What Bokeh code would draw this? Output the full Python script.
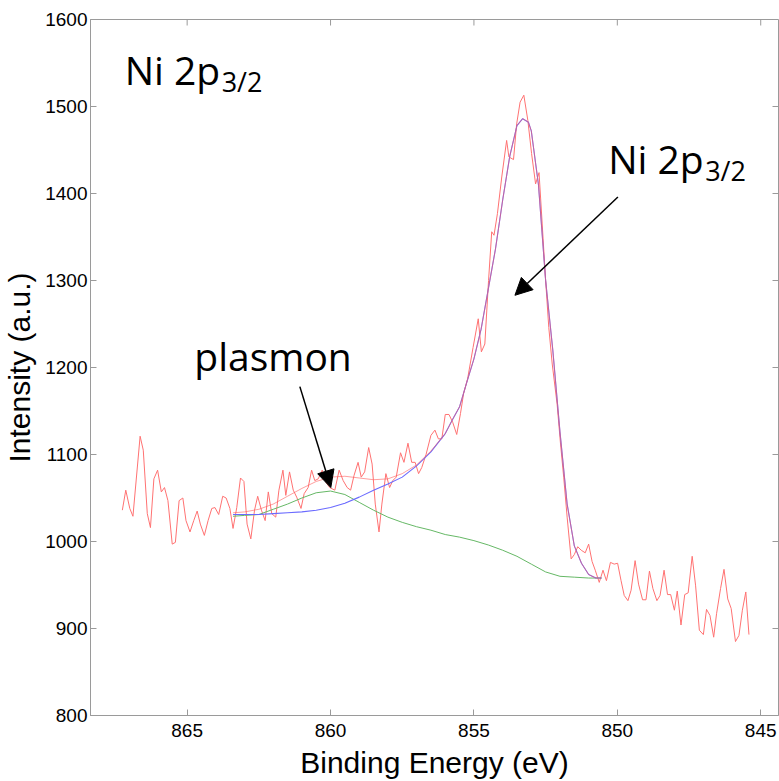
from bokeh.plotting import figure
from bokeh.models import Range1d, FixedTicker, Label, Arrow, NormalHead
from bokeh.embed import file_html
from bokeh.resources import INLINE

# ---- measured spectrum (Binding energy eV, intensity a.u.) ----
raw_energy = [867.26, 867.14, 867.00, 866.89, 866.64, 866.53, 866.39, 866.28, 866.16, 866.03,
              865.90, 865.79, 865.67, 865.52, 865.41, 865.28, 865.15, 865.04, 864.90, 864.77,
              864.65, 864.54, 864.40, 864.27, 864.14, 864.03, 863.90, 863.76, 863.64, 863.51,
              863.40, 863.27, 863.14, 863.02, 862.91, 862.78, 862.65, 862.54, 862.41, 862.28,
              862.17, 862.05, 861.91, 861.80, 861.66, 861.56, 861.43, 861.30, 861.18, 861.03,
              860.92, 860.78, 860.66, 860.55, 860.43, 860.29, 860.16, 860.03, 859.85, 859.70,
              859.56, 859.42, 859.30, 859.18, 859.04, 858.93, 858.81, 858.67, 858.55, 858.44,
              858.31, 858.21, 858.07, 857.94, 857.83, 857.71, 857.56, 857.44, 857.30, 857.17,
              857.05, 856.93, 856.82, 856.67, 856.50, 856.36, 856.24, 856.12, 856.00, 855.87,
              855.74, 855.60, 855.47, 855.36, 855.22, 855.03, 854.85, 854.74, 854.62, 854.49,
              854.38, 854.30, 854.18, 854.03, 853.86, 853.78, 853.62, 853.51, 853.39, 853.26,
              853.12, 852.99, 852.85, 852.73, 852.62, 852.50, 852.39, 852.27, 852.10, 851.98,
              851.87, 851.75, 851.61, 851.50, 851.38, 851.26, 851.12, 851.00, 850.88, 850.77,
              850.63, 850.50, 850.38, 850.24, 850.11, 849.99, 849.87, 849.76, 849.63, 849.52,
              849.38, 849.26, 849.12, 849.00, 848.88, 848.76, 848.62, 848.51, 848.37, 848.25,
              848.14, 848.01, 847.91, 847.78, 847.65, 847.53, 847.39, 847.27, 847.14, 847.00,
              846.89, 846.77, 846.64, 846.54, 846.40, 846.28, 846.15, 846.03, 845.88, 845.76,
              845.64, 845.52, 845.41]
raw_counts = [1036, 1059, 1038, 1029, 1121, 1105, 1032, 1016, 1072, 1082,
              1057, 1062, 1047, 997, 999, 1047, 1050, 1024, 1011, 1024,
              1035, 1020, 1007, 1024, 1038, 1039, 1031, 1052, 1050, 1038,
              1015, 1039, 1073, 1069, 1020, 1003, 1036, 1052, 1036, 1024,
              1057, 1032, 1028, 1059, 1082, 1053, 1080, 1059, 1051, 1038,
              1055, 1062, 1082, 1070, 1072, 1082, 1068, 1062, 1059, 1082,
              1070, 1062, 1059, 1076, 1091, 1074, 1080, 1108, 1089, 1043,
              1011, 1043, 1078, 1062, 1070, 1074, 1102, 1091, 1113, 1091,
              1091, 1078, 1085, 1100, 1122, 1128, 1118, 1118, 1146, 1146,
              1137, 1123, 1147, 1170, 1187, 1223, 1256, 1218, 1227, 1300,
              1356, 1352, 1377, 1419, 1461, 1442, 1439, 1480, 1505, 1513,
              1484, 1446, 1411, 1424, 1365, 1300, 1246, 1204, 1158, 1112,
              1074, 1028, 980, 985, 994, 990, 987, 997, 977, 967,
              953, 967, 955, 976, 974, 975, 955, 938, 932, 944,
              978, 951, 933, 933, 966, 946, 932, 938, 967, 939,
              939, 921, 943, 904, 939, 941, 983, 949, 898, 893,
              922, 915, 890, 917, 946, 968, 934, 923, 885, 892,
              921, 942, 893]

# ---- main peak fit (blue) ----
peak_energy = [863.40, 863.0, 862.5, 862.0, 861.5, 861.0, 860.5, 860.0, 859.5, 859.0,
               858.5, 858.0, 857.5, 857.0, 856.5, 856.0, 855.75, 855.5, 855.25, 855.0,
               854.75, 854.5, 854.25, 854.0, 853.75, 853.5, 853.3, 853.1, 853.0, 852.75,
               852.5, 852.25, 852.0, 851.75, 851.5, 851.25, 851.0, 850.75, 850.55]
peak_fit = [1031, 1031, 1031, 1032, 1033, 1034, 1036, 1039, 1044, 1051,
            1059, 1066, 1074, 1087, 1103, 1124, 1140, 1155, 1183, 1210,
            1244, 1290, 1336, 1392, 1443, 1478, 1486, 1482, 1472, 1410,
            1300, 1220, 1126, 1043, 995, 975, 962, 958, 958]

# ---- plasmon + background (green) ----
plasmon_energy = [863.4, 863.0, 862.5, 862.0, 861.5, 861.0, 860.5, 860.0, 859.5, 859.0,
                  858.5, 858.0, 857.5, 857.0, 856.5, 856.0, 855.5, 855.0, 854.5, 854.0,
                  853.5, 853.0, 852.5, 852.0, 851.5, 851.0, 850.55]
plasmon_fit = [1029, 1030, 1031, 1037, 1043, 1050, 1056, 1058, 1054, 1045,
               1036, 1028, 1022, 1017, 1013, 1008, 1005, 1001, 996, 990,
               983, 974, 965, 960, 959, 958, 958]

# ---- total envelope (red smooth), low-energy part where it departs from blue ----
env_energy = [863.4, 863.0, 862.5, 862.0, 861.5, 861.0, 860.5, 860.0, 859.5, 859.0,
              858.5, 858.0, 857.5, 857.0, 856.5]
env_fit = [1033, 1034, 1037, 1043, 1052, 1061, 1069, 1074, 1075, 1073,
           1071, 1072, 1078, 1088, 1104]

x_ticks = [865, 860, 855, 850, 845]
y_ticks = [800, 900, 1000, 1100, 1200, 1300, 1400, 1500, 1600]

X_START, X_END = 868.37, 844.38
Y_START, Y_END = 800, 1600

# envelope continues on the blue fit where the plasmon has vanished
env_x = env_energy + [e for e in peak_energy if e <= 856.0]
env_y = env_fit + [v for e, v in zip(peak_energy, peak_fit) if e <= 856.0]

AXIS_GRAY = "#9a9a9a"
TICK_FONT = "Liberation Sans"

p = figure(width=779, height=781, output_backend="svg", toolbar_location=None,
           x_range=Range1d(X_START, X_END), y_range=Range1d(Y_START, Y_END),
           min_border_left=88, min_border_top=19, min_border_right=1, min_border_bottom=66)
p.background_fill_color = "white"
p.border_fill_color = "white"
p.outline_line_color = AXIS_GRAY
p.xgrid.visible = False
p.ygrid.visible = False

for ax in (p.xaxis[0], p.yaxis[0]):
    ax.axis_line_color = AXIS_GRAY
    ax.major_tick_line_color = AXIS_GRAY
    ax.major_tick_in = 6
    ax.major_tick_out = 0
    ax.minor_tick_line_color = None
    ax.major_label_text_font = TICK_FONT
    ax.major_label_text_font_size = "19px"
    ax.major_label_text_color = "black"
    ax.axis_label_text_font = TICK_FONT
    ax.axis_label_text_font_size = "30px"
    ax.axis_label_text_font_style = "normal"
    ax.axis_label_text_color = "black"

p.xaxis[0].ticker = FixedTicker(ticks=x_ticks)
p.yaxis[0].ticker = FixedTicker(ticks=y_ticks)
p.xaxis[0].axis_label = "Binding Energy (eV)"
p.yaxis[0].axis_label = "Intensity (a.u.)"
p.xaxis[0].major_label_standoff = 8
p.xaxis[0].axis_label_standoff = 6
p.yaxis[0].major_label_standoff = 3
p.yaxis[0].axis_label_standoff = 6

# mirrored inward ticks on the top and right edges of the box
tick_len_y = 6 * (Y_END - Y_START) / 696
tick_len_x = 6 * (X_START - X_END) / 690
p.segment(x0=x_ticks, y0=[Y_END] * len(x_ticks), x1=x_ticks,
          y1=[Y_END - tick_len_y] * len(x_ticks), line_color=AXIS_GRAY, line_width=1)
p.segment(x0=[X_END] * len(y_ticks), y0=y_ticks, x1=[X_END + tick_len_x] * len(y_ticks),
          y1=y_ticks, line_color=AXIS_GRAY, line_width=1)

# data and fits
p.line(raw_energy, raw_counts, line_color="#ff7272", line_width=1)
p.line(plasmon_energy, plasmon_fit, line_color="#66b866", line_width=1)
p.line(peak_energy, peak_fit, line_color="#6a6aff", line_width=1.1)
p.line(env_x, env_y, line_color="#ff5f5f", line_width=1, line_alpha=0.6)

# annotations
TXT_FONT = "Open Sans"
p.add_layout(Label(x=867.18, y=1543, text="Ni 2p", text_font=TXT_FONT,
                   text_font_size="39px", text_baseline="alphabetic", text_color="black"))
p.add_layout(Label(x=867.18, y=1543, x_offset=97, y_offset=-12, text="3/2", text_font=TXT_FONT,
                   text_font_size="27px", text_baseline="alphabetic", text_color="black"))
p.add_layout(Label(x=850.32, y=1440, text="Ni 2p", text_font=TXT_FONT,
                   text_font_size="39px", text_baseline="alphabetic", text_color="black"))
p.add_layout(Label(x=850.32, y=1440, x_offset=97, y_offset=-12, text="3/2", text_font=TXT_FONT,
                   text_font_size="27px", text_baseline="alphabetic", text_color="black"))
p.add_layout(Label(x=864.75, y=1214, text="plasmon", text_font=TXT_FONT,
                   text_font_size="39px", text_baseline="alphabetic", text_color="black"))

p.add_layout(Arrow(end=NormalHead(size=17, fill_color="black", line_color="black"),
                   x_start=849.98, y_start=1396, x_end=853.57, y_end=1283,
                   line_color="black", line_width=1.5))
p.add_layout(Arrow(end=NormalHead(size=17, fill_color="black", line_color="black"),
                   x_start=861.07, y_start=1178, x_end=859.99, y_end=1062,
                   line_color="black", line_width=1.5))

open("out.html", "w").write(file_html(p, INLINE))
